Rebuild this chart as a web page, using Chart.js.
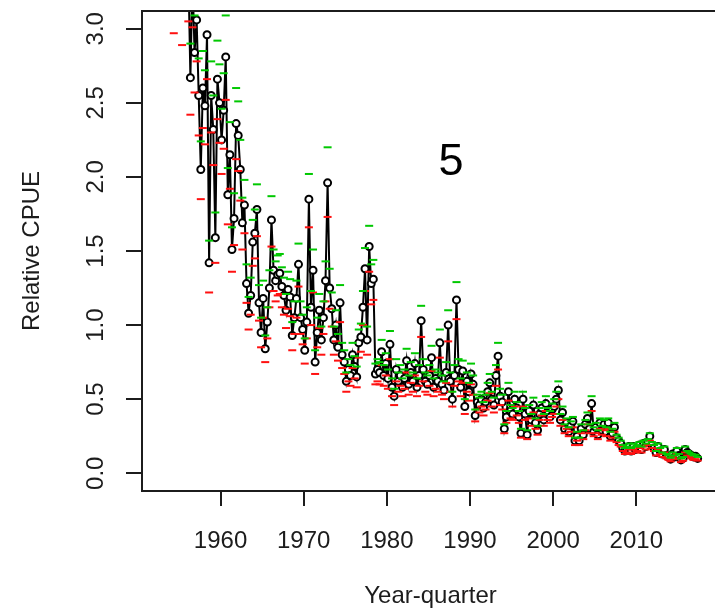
<!DOCTYPE html>
<html>
<head>
<meta charset="utf-8">
<title>Relative CPUE by year-quarter</title>
<script src="https://cdn.jsdelivr.net/npm/chart.js@4.4.1/dist/chart.umd.min.js"></script>
<style>
  html, body { margin: 0; padding: 0; background: #ffffff; overflow: hidden; }
  #wrap { position: relative; width: 725px; height: 611px; }
  canvas { display: block; }
</style>
</head>
<body>
<div id="wrap"><canvas id="cpueChart" width="725" height="611"></canvas></div>
<script>
// Quarterly series, first quarter of 1953 through the second quarter of 2017.
const firstYear = 1953;

// Standardised CPUE (black line with open circles), one row per year, Q1..Q4
const cpue = [
  3.85, 4.10, 3.70, 3.60,   // 1953
  3.55, 3.30, 3.62, 3.45,   // 1954
  3.70, 3.22, 3.58, 3.65,   // 1955
  3.40, 2.67, 3.35, 2.84,   // 1956
  3.06, 2.55, 2.05, 2.60,   // 1957
  2.48, 2.96, 1.42, 2.55,   // 1958
  2.32, 1.59, 2.66, 2.50,   // 1959
  2.25, 2.45, 2.81, 1.88,   // 1960
  2.15, 1.51, 1.72, 2.36,   // 1961
  2.28, 2.05, 1.69, 1.81,   // 1962
  1.28, 1.08, 1.20, 1.56,   // 1963
  1.62, 1.78, 1.15, 0.95,   // 1964
  1.18, 0.84, 1.02, 1.25,   // 1965
  1.71, 1.37, 1.30, 1.34,   // 1966
  1.35, 1.26, 1.20, 1.10,   // 1967
  1.24, 1.19, 0.93, 1.05,   // 1968
  1.18, 1.41, 1.05, 0.97,   // 1969
  0.83, 1.02, 1.85, 1.12,   // 1970
  1.37, 0.75, 0.95, 1.10,   // 1971
  0.90, 1.05, 1.30, 1.96,   // 1972
  1.25, 1.11, 0.90, 1.00,   // 1973
  0.85, 1.15, 0.80, 0.75,   // 1974
  0.62, 0.70, 0.66, 0.80,   // 1975
  0.72, 0.65, 0.88, 0.92,   // 1976
  1.12, 1.38, 0.90, 1.53,   // 1977
  1.28, 1.31, 0.67, 0.70,   // 1978
  0.68, 0.82, 0.66, 0.74,   // 1979
  0.64, 0.87, 0.58, 0.52,   // 1980
  0.70, 0.62, 0.66, 0.58,   // 1981
  0.64, 0.76, 0.60, 0.68,   // 1982
  0.62, 0.74, 0.58, 0.66,   // 1983
  1.03, 0.70, 0.62, 0.60,   // 1984
  0.66, 0.78, 0.58, 0.64,   // 1985
  0.62, 0.88, 0.60, 0.56,   // 1986
  0.68, 1.00, 0.62, 0.50,   // 1987
  0.66, 1.17, 0.70, 0.58,   // 1988
  0.69, 0.45, 0.62, 0.55,   // 1989
  0.67, 0.60, 0.39, 0.48,   // 1990
  0.46, 0.50, 0.44, 0.48,   // 1991
  0.55, 0.61, 0.50, 0.46,   // 1992
  0.66, 0.79, 0.52, 0.48,   // 1993
  0.30, 0.38, 0.55, 0.42,   // 1994
  0.40, 0.50, 0.44, 0.38,   // 1995
  0.27, 0.50, 0.40, 0.26,   // 1996
  0.42, 0.36, 0.46, 0.34,   // 1997
  0.29, 0.40, 0.44, 0.36,   // 1998
  0.47, 0.40, 0.38, 0.43,   // 1999
  0.45, 0.50, 0.56, 0.36,   // 2000
  0.41, 0.30, 0.34, 0.28,   // 2001
  0.32, 0.35, 0.22, 0.25,   // 2002
  0.22, 0.30, 0.26, 0.33,   // 2003
  0.37, 0.30, 0.47, 0.28,   // 2004
  0.31, 0.26, 0.34, 0.29,   // 2005
  0.33, 0.28, 0.34, 0.25,   // 2006
  0.27, 0.31, 0.24, 0.22,   // 2007
  0.20, 0.17, 0.15, 0.16,   // 2008
  0.18, 0.15, 0.18, 0.16,   // 2009
  0.17, 0.19, 0.16, 0.20,   // 2010
  0.18, 0.21, 0.25, 0.19,   // 2011
  0.17, 0.14, 0.18, 0.15,   // 2012
  0.13, 0.16, 0.12, 0.11,   // 2013
  0.095, 0.13, 0.11, 0.15,  // 2014
  0.12, 0.09, 0.10, 0.16,   // 2015
  0.14, 0.13, 0.12, 0.11,   // 2016
  0.115, 0.10               // 2017
];

// Upper bound (green dashes)
const upper = [
  4.25, 4.50, 4.08, 3.96,   // 1953
  3.90, 3.64, 3.98, 3.80,   // 1954
  4.06, 3.55, 3.94, 4.02,   // 1955
  3.74, 2.90, 3.69, 3.09,   // 1956
  3.36, 2.80, 2.24, 2.85,   // 1957
  2.72, 3.25, 1.57, 2.78,   // 1958
  2.55, 1.76, 2.92, 2.76,   // 1959
  2.46, 2.70, 3.09, 2.06,   // 1960
  2.37, 1.66, 1.89, 2.60,   // 1961
  2.51, 2.25, 1.86, 1.98,   // 1962
  1.41, 1.19, 1.32, 1.71,   // 1963
  1.78, 1.95, 1.27, 1.05,   // 1964
  1.30, 0.93, 1.12, 1.37,   // 1965
  1.87, 1.51, 1.43, 1.47,   // 1966
  1.48, 1.39, 1.32, 1.21,   // 1967
  1.36, 1.31, 1.02, 1.16,   // 1968
  1.30, 1.55, 1.16, 1.07,   // 1969
  0.91, 1.12, 2.02, 1.23,   // 1970
  1.51, 0.83, 1.05, 1.21,   // 1971
  0.99, 1.16, 1.43, 2.20,   // 1972
  1.38, 1.22, 0.99, 1.10,   // 1973
  0.94, 1.27, 0.88, 0.83,   // 1974
  0.68, 0.77, 0.73, 0.88,   // 1975
  0.79, 0.72, 0.97, 1.01,   // 1976
  1.23, 1.52, 0.99, 1.67,   // 1977
  1.41, 1.44, 0.74, 0.77,   // 1978
  0.75, 0.90, 0.73, 0.81,   // 1979
  0.70, 0.96, 0.64, 0.57,   // 1980
  0.77, 0.68, 0.73, 0.64,   // 1981
  0.70, 0.84, 0.66, 0.75,   // 1982
  0.68, 0.81, 0.64, 0.73,   // 1983
  1.13, 0.77, 0.68, 0.66,   // 1984
  0.73, 0.86, 0.64, 0.70,   // 1985
  0.68, 0.97, 0.66, 0.62,   // 1986
  0.75, 1.10, 0.68, 0.55,   // 1987
  0.73, 1.29, 0.77, 0.64,   // 1988
  0.76, 0.50, 0.68, 0.61,   // 1989
  0.74, 0.66, 0.43, 0.53,   // 1990
  0.51, 0.55, 0.48, 0.53,   // 1991
  0.61, 0.67, 0.55, 0.51,   // 1992
  0.73, 0.88, 0.57, 0.53,   // 1993
  0.33, 0.42, 0.61, 0.46,   // 1994
  0.44, 0.55, 0.48, 0.42,   // 1995
  0.30, 0.55, 0.44, 0.29,   // 1996
  0.46, 0.40, 0.51, 0.37,   // 1997
  0.32, 0.44, 0.48, 0.40,   // 1998
  0.52, 0.44, 0.42, 0.47,   // 1999
  0.50, 0.55, 0.62, 0.40,   // 2000
  0.45, 0.33, 0.37, 0.31,   // 2001
  0.35, 0.38, 0.24, 0.28,   // 2002
  0.24, 0.33, 0.29, 0.36,   // 2003
  0.41, 0.33, 0.52, 0.31,   // 2004
  0.34, 0.29, 0.37, 0.32,   // 2005
  0.36, 0.31, 0.37, 0.28,   // 2006
  0.30, 0.34, 0.26, 0.24,   // 2007
  0.22, 0.19, 0.17, 0.18,   // 2008
  0.20, 0.17, 0.20, 0.18,   // 2009
  0.19, 0.21, 0.18, 0.22,   // 2010
  0.20, 0.23, 0.27, 0.21,   // 2011
  0.19, 0.15, 0.20, 0.17,   // 2012
  0.14, 0.18, 0.13, 0.12,   // 2013
  0.105, 0.14, 0.12, 0.17,  // 2014
  0.13, 0.10, 0.11, 0.18,   // 2015
  0.15, 0.14, 0.13, 0.12,   // 2016
  0.125, 0.11               // 2017
];

// Lower bound (red dashes)
const lower = [
  3.45, 3.66, 3.30, 3.22,   // 1953
  3.18, 2.97, 3.24, 3.16,   // 1954
  3.30, 2.89, 3.20, 3.27,   // 1955
  3.05, 2.42, 3.01, 2.57,   // 1956
  2.78, 2.28, 1.85, 2.33,   // 1957
  2.22, 2.66, 1.22, 2.30,   // 1958
  2.08, 1.42, 2.39, 2.23,   // 1959
  2.02, 2.19, 2.52, 1.68,   // 1960
  1.92, 1.36, 1.54, 2.12,   // 1961
  2.04, 1.84, 1.51, 1.62,   // 1962
  1.15, 0.97, 1.07, 1.40,   // 1963
  1.45, 1.60, 1.03, 0.85,   // 1964
  1.05, 0.75, 0.91, 1.12,   // 1965
  1.53, 1.23, 1.16, 1.20,   // 1966
  1.21, 1.12, 1.07, 0.98,   // 1967
  1.11, 1.06, 0.83, 0.94,   // 1968
  1.05, 1.26, 0.94, 0.87,   // 1969
  0.74, 0.91, 1.66, 1.00,   // 1970
  1.22, 0.67, 0.85, 0.98,   // 1971
  0.80, 0.94, 1.16, 1.73,   // 1972
  1.11, 0.99, 0.80, 0.89,   // 1973
  0.76, 1.02, 0.71, 0.67,   // 1974
  0.55, 0.62, 0.59, 0.71,   // 1975
  0.64, 0.58, 0.78, 0.82,   // 1976
  1.00, 1.23, 0.80, 1.36,   // 1977
  1.14, 1.17, 0.60, 0.62,   // 1978
  0.60, 0.73, 0.59, 0.66,   // 1979
  0.57, 0.77, 0.52, 0.46,   // 1980
  0.62, 0.55, 0.59, 0.52,   // 1981
  0.57, 0.68, 0.53, 0.61,   // 1982
  0.55, 0.66, 0.52, 0.59,   // 1983
  0.92, 0.62, 0.55, 0.53,   // 1984
  0.59, 0.69, 0.52, 0.57,   // 1985
  0.55, 0.78, 0.53, 0.50,   // 1986
  0.61, 0.89, 0.55, 0.45,   // 1987
  0.59, 1.04, 0.62, 0.52,   // 1988
  0.61, 0.40, 0.55, 0.49,   // 1989
  0.60, 0.53, 0.35, 0.43,   // 1990
  0.41, 0.45, 0.39, 0.43,   // 1991
  0.49, 0.54, 0.45, 0.41,   // 1992
  0.59, 0.70, 0.46, 0.43,   // 1993
  0.27, 0.34, 0.49, 0.37,   // 1994
  0.36, 0.45, 0.39, 0.34,   // 1995
  0.24, 0.45, 0.36, 0.23,   // 1996
  0.37, 0.32, 0.41, 0.30,   // 1997
  0.26, 0.36, 0.39, 0.32,   // 1998
  0.42, 0.36, 0.34, 0.38,   // 1999
  0.40, 0.45, 0.50, 0.32,   // 2000
  0.36, 0.27, 0.30, 0.25,   // 2001
  0.28, 0.31, 0.19, 0.22,   // 2002
  0.19, 0.27, 0.23, 0.29,   // 2003
  0.33, 0.27, 0.42, 0.25,   // 2004
  0.27, 0.23, 0.30, 0.26,   // 2005
  0.29, 0.25, 0.30, 0.22,   // 2006
  0.24, 0.28, 0.21, 0.19,   // 2007
  0.18, 0.15, 0.13, 0.14,   // 2008
  0.16, 0.13, 0.16, 0.14,   // 2009
  0.15, 0.17, 0.14, 0.18,   // 2010
  0.16, 0.19, 0.22, 0.17,   // 2011
  0.15, 0.12, 0.16, 0.13,   // 2012
  0.11, 0.14, 0.10, 0.09,   // 2013
  0.08, 0.11, 0.095, 0.13,  // 2014
  0.10, 0.075, 0.085, 0.14, // 2015
  0.12, 0.11, 0.10, 0.09,   // 2016
  0.095, 0.085              // 2017
];

// Axis ticks and labels
const yearTicks = [1960, 1970, 1980, 1990, 2000, 2010];
const yearTickLabels = ['1960', '1970', '1980', '1990', '2000', '2010'];
const cpueTicks = [0, 0.5, 1.0, 1.5, 2.0, 2.5, 3.0];
const cpueTickLabels = ['0.0', '0.5', '1.0', '1.5', '2.0', '2.5', '3.0'];
const xAxisTitle = 'Year-quarter';
const yAxisTitle = 'Relative CPUE';
const panelLabel = '5';

// Axis limits: data range widened by 4% on each side for x; y runs 0..3 widened the same way
const xMin = 1950.555, xMax = 2019.945;
const yMin = -0.12, yMax = 3.12;

const axisFont = { family: '"Liberation Sans", Arial, sans-serif', size: 24 };
const inkColor = '#1c1c1c';

// Each quarter sits at its mid-point on the time axis
function asPoints(values) {
  return values.map((v, i) => ({ x: firstYear + i / 4 + 0.125, y: v }));
}

// Frame around the plotting region
const frameBox = {
  id: 'frameBox',
  afterDatasetsDraw(chart) {
    const { ctx, chartArea: a } = chart;
    ctx.save();
    ctx.strokeStyle = inkColor;
    ctx.lineWidth = 2;
    ctx.strokeRect(a.left, a.top, a.right - a.left, a.bottom - a.top);
    ctx.restore();
  }
};

// Panel number inside the plot
const panelTag = {
  id: 'panelTag',
  afterDraw(chart) {
    const { ctx } = chart;
    ctx.save();
    ctx.fillStyle = '#000000';
    ctx.font = '45px "Liberation Sans", Arial, sans-serif';
    ctx.textAlign = 'center';
    ctx.textBaseline = 'alphabetic';
    ctx.fillText(panelLabel, 451, 175);
    ctx.restore();
  }
};

new Chart(document.getElementById('cpueChart'), {
  type: 'line',
  data: {
    datasets: [
      {
        label: 'Upper',
        data: asPoints(upper),
        showLine: false,
        pointStyle: 'line',
        pointRadius: 4,
        pointBorderWidth: 2,
        pointBorderColor: '#00c800',
        pointBackgroundColor: '#00c800'
      },
      {
        label: 'Lower',
        data: asPoints(lower),
        showLine: false,
        pointStyle: 'line',
        pointRadius: 4,
        pointBorderWidth: 2,
        pointBorderColor: '#ff1010',
        pointBackgroundColor: '#ff1010'
      },
      {
        label: 'CPUE',
        data: asPoints(cpue),
        borderColor: '#000000',
        borderWidth: 2,
        tension: 0,
        pointStyle: 'circle',
        pointRadius: 3.5,
        pointBorderWidth: 2,
        pointBorderColor: '#000000',
        pointBackgroundColor: '#ffffff'
      }
    ]
  },
  options: {
    responsive: false,
    animation: false,
    devicePixelRatio: 1,
    events: [],
    layout: { padding: { top: 11, right: 5, left: 0, bottom: 0 } },
    plugins: { legend: { display: false }, tooltip: { enabled: false } },
    scales: {
      x: {
        type: 'linear',
        min: xMin,
        max: xMax,
        afterBuildTicks(scale) { scale.ticks = yearTicks.map(v => ({ value: v })); },
        afterFit(scale) {
          scale.height = 120;
          scale.paddingLeft = 0; scale.paddingRight = 0;
        },
        ticks: {
          font: axisFont,
          color: inkColor,
          padding: 21,
          maxRotation: 0,
          minRotation: 0,
          callback(value) { return yearTickLabels[yearTicks.indexOf(value)]; }
        },
        grid: {
          drawOnChartArea: false,
          drawTicks: true,
          tickLength: 15,
          lineWidth: 2,
          color: inkColor
        },
        border: { display: false },
        title: {
          display: true,
          text: xAxisTitle,
          font: axisFont,
          color: inkColor,
          padding: { top: 0, bottom: 0 }
        }
      },
      y: {
        type: 'linear',
        min: yMin,
        max: yMax,
        afterBuildTicks(scale) { scale.ticks = cpueTicks.map(v => ({ value: v })); },
        afterFit(scale) {
          scale.width = 142;
          scale.paddingTop = 0; scale.paddingBottom = 0;
        },
        ticks: {
          font: axisFont,
          color: inkColor,
          padding: 13,
          minRotation: 90,
          maxRotation: 90,
          crossAlign: 'center',
          callback(value) { return cpueTickLabels[cpueTicks.indexOf(value)]; }
        },
        grid: {
          drawOnChartArea: false,
          drawTicks: true,
          tickLength: 16,
          lineWidth: 2,
          color: inkColor
        },
        border: { display: false },
        title: {
          display: true,
          text: yAxisTitle,
          font: axisFont,
          color: inkColor,
          padding: { top: 18, bottom: 0 }
        }
      }
    }
  },
  plugins: [frameBox, panelTag]
});
</script>
</body>
</html>
